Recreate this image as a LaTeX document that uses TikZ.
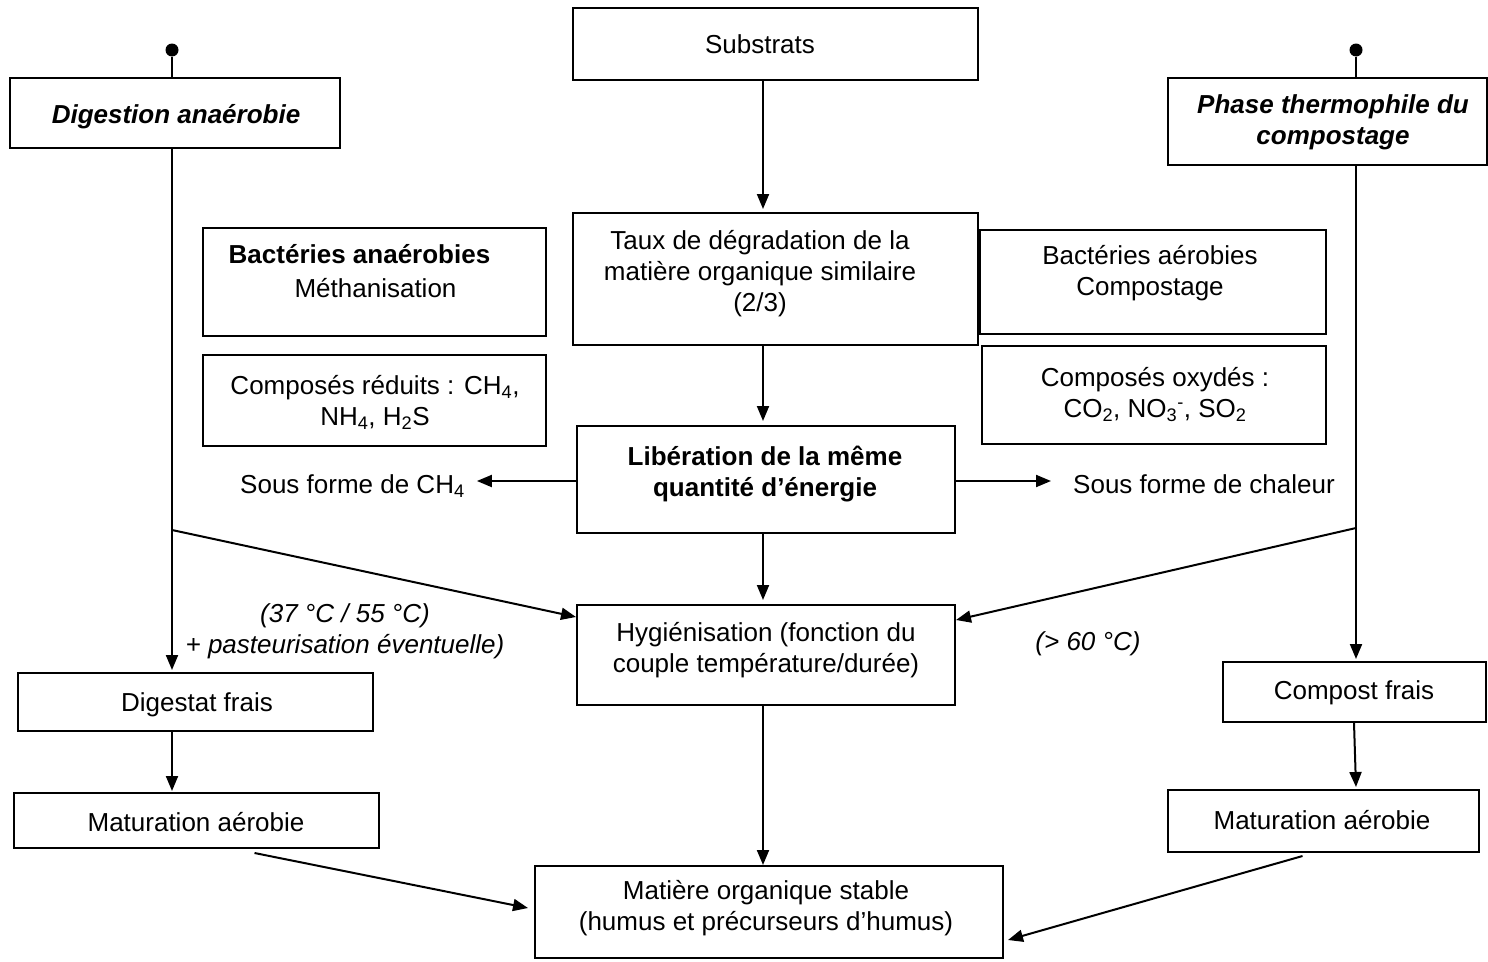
\documentclass[tikz,border=0pt]{standalone}
\usepackage{fontspec}
\setmainfont{Liberation Sans}
\usetikzlibrary{arrows.meta}
\begin{document}
\begin{tikzpicture}[x=1pt,y=-1pt,
  every node/.style={font=\fontsize{26}{31}\selectfont, inner sep=0pt},
  bi/.style={font=\fontsize{26}{31}\selectfont\bfseries\itshape},
  bo/.style={font=\fontsize{26}{31}\selectfont\bfseries},
  it/.style={font=\fontsize{26}{31}\selectfont\itshape},
  box/.style n args={2}{draw, line width=2pt, minimum width=#1, minimum height=#2},
  txt/.style={align=center},
  ln/.style={line width=2pt},
  arr/.style={line width=2pt, -{Triangle[length=15pt,width=12pt]}},
  dot/.style={circle, fill, minimum size=13pt}
]
\useasboundingbox (0,0) rectangle (1488,961);
% boxes
\node[box={405pt}{72pt}] (sub) at (775.5,44) {};
\node[box={330pt}{70pt}] (dig) at (175,113) {};
\node[box={319pt}{87pt}] (pha) at (1327.5,121.5) {};
\node[box={343pt}{108pt}] (bana) at (374.5,282) {};
\node[box={405pt}{132pt}] (taux) at (775.5,279) {};
\node[box={346pt}{104pt}] (baer) at (1153,282) {};
\node[box={343pt}{91pt}] (cred) at (374.5,400.5) {};
\node[box={344pt}{98pt}] (cox) at (1154,395) {};
\node[box={378pt}{107pt}] (lib) at (766,479.5) {};
\node[box={378pt}{100pt}] (hyg) at (766,655) {};
\node[box={355pt}{58pt}] (dfr) at (195.5,702) {};
\node[box={365pt}{55pt}] (mal) at (196.5,820.5) {};
\node[box={263pt}{60pt}] (cfr) at (1354.5,692) {};
\node[box={311pt}{62pt}] (mar) at (1323.5,821) {};
\node[box={468pt}{92pt}] (mat) at (769,912) {};
% texts
\node (subt) at (760,47) {\strut Substrats};
\node[bi] (digt) at (176,117) {\strut Digestion anaérobie};
\node[bi,txt] (phat) at (1333,122.5) {\strut Phase thermophile du\\\strut compostage};
\node[bo] (banat1) at (359.5,257) {\strut Bactéries anaérobies};
\node (banat2) at (375.5,291) {\strut Méthanisation};
\node[txt] (tauxt) at (760,274.5) {\strut Taux de dégradation de la\\\strut matière organique similaire\\\strut (2/3)};
\node[txt] (baert) at (1150,274) {\strut Bactéries aérobies\\\strut Compostage};
\node[txt] (credt) at (375,404) {\strut Composés réduits : CH\textsubscript{4},\\\strut NH\textsubscript{4}, H\textsubscript{2}S};
\node[txt] (coxt) at (1155,395.5) {\strut Composés oxydés :\\\strut CO\textsubscript{2}, NO\textsubscript{3}\textsuperscript{-}, SO\textsubscript{2}};
\node[bo,txt] (libt) at (765,474.5) {\strut Libération de la même\\\strut quantité d’énergie};
\node[txt] (hygt) at (766,651) {\strut Hygiénisation (fonction du\\\strut couple température/durée)};
\node (dfrt) at (197,705) {\strut Digestat frais};
\node (malt) at (196,825) {\strut Maturation aérobie};
\node (cfrt) at (1354,693) {\strut Compost frais};
\node (mart) at (1322,823) {\strut Maturation aérobie};
\node[txt] (matt) at (766,908.5) {\strut Matière organique stable\\\strut (humus et précurseurs d’humus)};
\node[anchor=west] (ch4) at (240,487) {\strut Sous forme de CH\textsubscript{4}};
\node[anchor=west] (chal) at (1073,487) {\strut Sous forme de chaleur};
\node[it,txt] (temp1) at (345,632) {\strut (37 °C / 55 °C)\\\strut + pasteurisation éventuelle)};
\node[it] (temp2) at (1088,644) {\strut (> 60 °C)};
% dots
\node[dot] (d1) at (172,50) {};
\node[dot] (d2) at (1356,50) {};
\coordinate (cx) at (763,0);
\coordinate (bl) at (172,530);
\coordinate (br) at (1356,528);
% connectors
\draw[ln] (d1) -- (d1 |- dig.north);
\draw[ln] (d2) -- (d2 |- pha.north);
\draw[arr] (d1 |- dig.south) -- ([yshift=2pt]d1 |- dfr.north);
\draw[arr] (d2 |- pha.south) -- ([yshift=2pt]d2 |- cfr.north);
\draw[arr] (d1 |- dfr.south) -- ([yshift=1pt]d1 |- mal.north);
\draw[arr] ([xshift=-0.5pt]cfr.south) -- ([xshift=32.5pt,yshift=2pt]mar.north);
\draw[arr] (cx |- sub.south) -- ([yshift=3pt]cx |- taux.north);
\draw[arr] (cx |- taux.south) -- ([yshift=4pt]cx |- lib.north);
\draw[arr] (cx |- lib.south) -- ([yshift=4pt]cx |- hyg.north);
\draw[arr] (cx |- hyg.south) -- (cx |- mat.north);
\draw[arr] (lib.west |- 0,481) -- ([xshift=12pt]ch4.east |- 0,481);
\draw[arr] (lib.east |- 0,481) -- ([xshift=-22pt]chal.west |- 0,481);
\draw[arr] (bl) -- ([yshift=38pt]hyg.west);
\draw[arr] (br) -- ([yshift=35pt]hyg.east);
\draw[arr] ([xshift=58pt,yshift=-4pt]mal.south) -- ([xshift=-6pt,yshift=4pt]mat.west);
\draw[arr] ([xshift=-21pt,yshift=-3pt]mar.south) -- ([xshift=4pt,yshift=-28pt]mat.east);
\end{tikzpicture}
\end{document}
